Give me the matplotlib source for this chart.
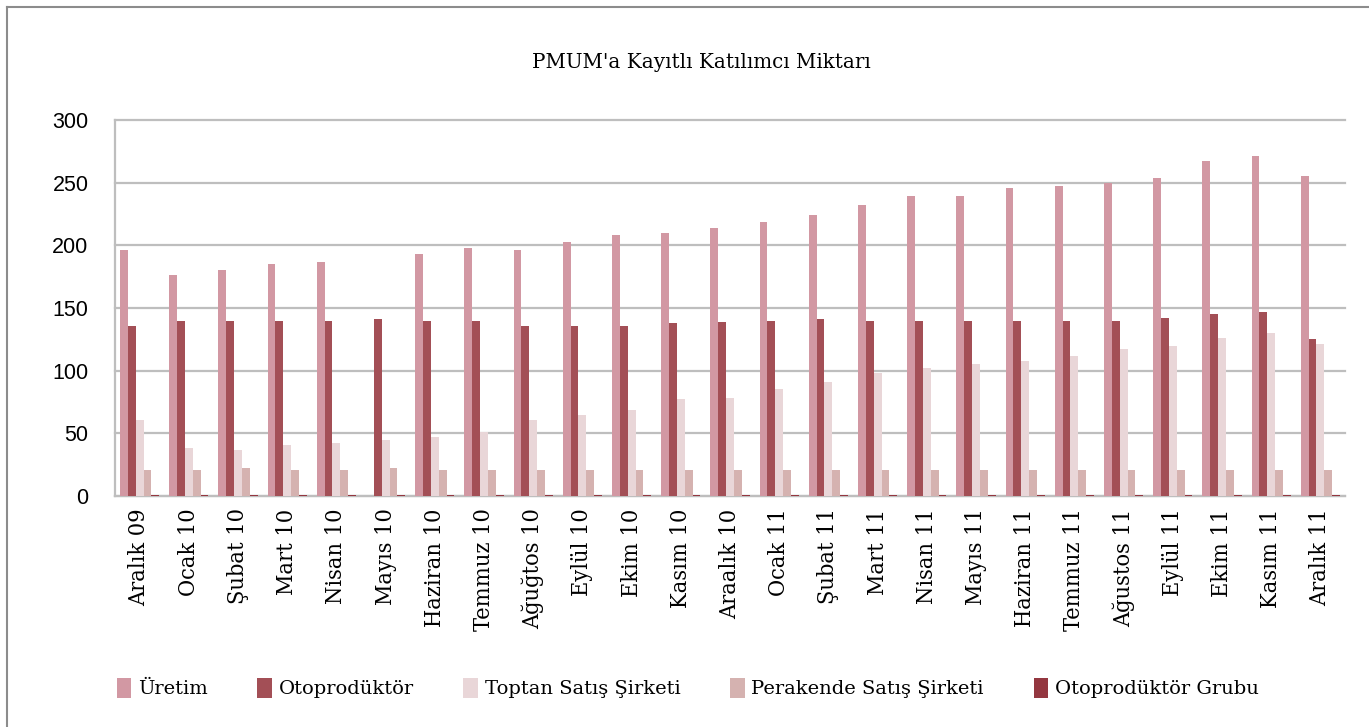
import matplotlib
matplotlib.use("Agg")
import matplotlib.pyplot as plt
import numpy as np
from matplotlib.lines import Line2D

categories = ["Aralık 09", "Ocak 10", "Şubat 10", "Mart 10", "Nisan 10", "Mayıs 10",
              "Haziran 10", "Temmuz 10", "Ağuğtos 10", "Eylül 10", "Ekim 10", "Kasım 10",
              "Araalık 10", "Ocak 11", "Şubat 11", "Mart 11", "Nisan 11", "Mayıs 11",
              "Haziran 11", "Temmuz 11", "Ağustos 11", "Eylül 11", "Ekim 11", "Kasım 11",
              "Aralık 11"]
uretim = [196, 176, 180, 185, 187, 0, 193, 198, 196, 203, 208, 210, 214, 219, 224, 232,
          239, 239, 246, 247, 250, 254, 267, 271, 255]
otoproduktor = [136, 140, 140, 140, 140, 141, 140, 140, 136, 136, 136, 138, 139, 140, 141, 140,
                140, 140, 140, 140, 140, 142, 145, 147, 125]
toptan = [61, 38, 37, 41, 42, 45, 47, 51, 61, 65, 69, 77, 78, 85, 91, 98,
          102, 105, 108, 112, 117, 120, 126, 130, 121]
perakende = [21, 21, 22, 21, 21, 22, 21, 21, 21, 21, 21, 21, 21, 21, 21, 21,
             21, 21, 21, 21, 21, 21, 21, 21, 21]
grubu = [1] * 25

series_names = ["Üretim", "Otoprodüktör", "Toptan Satış Şirketi", "Perakende Satış Şirketi",
                "Otoprodüktör Grubu"]
series_values = [uretim, otoproduktor, toptan, perakende, grubu]
colors = ["#D298A3", "#A34F56", "#E9D6D8", "#D5B2B0", "#943740"]

W, H = 1369, 727
fig = plt.figure(figsize=(W / 100, H / 100), dpi=100)
ax = fig.add_axes([115 / W, 1 - 496 / H, (1345 - 115) / W, (496 - 120) / H])

x = np.arange(len(categories))
bw = 0.159
for k, (name, vals, c) in enumerate(zip(series_names, series_values, colors)):
    ax.bar(x + (k - 2) * bw, vals, width=bw, color=c, label=name, zorder=3, linewidth=0)

ax.set_xlim(-0.5, len(categories) - 0.5)
ax.set_ylim(0, 300)
ax.set_yticks(np.arange(0, 301, 50))
ax.yaxis.grid(True, color="#BEBEBE", linewidth=1.6, zorder=0)
for gl in ax.get_ygridlines():
    gl.set_clip_on(False)
ax.set_axisbelow(True)
for s in ["top", "right"]:
    ax.spines[s].set_visible(False)
ax.spines["left"].set_color("#BEBEBE")
ax.spines["left"].set_linewidth(1.6)
ax.spines["bottom"].set_color("#BEBEBE")
ax.spines["bottom"].set_linewidth(1.6)
ax.tick_params(axis="both", length=0)
ax.tick_params(axis="y", pad=19, labelsize=15.5)
for lbl in ax.get_yticklabels():
    lbl.set_fontfamily("Liberation Sans")

ax.set_xticks(x)
ax.set_xticklabels(categories, rotation=90, fontsize=16.8, family="DejaVu Serif",
                   fontstretch="condensed")
ax.tick_params(axis="x", pad=9)

fig.text(701 / W, 1 - 62 / H, "PMUM'a Kayıtlı Katılımcı Miktarı", ha="center", va="center",
         fontsize=14.3, family="DejaVu Serif")

leg = fig.legend(loc="center left", bbox_to_anchor=(99 / W, 1 - 688 / H), ncol=5, frameon=False,
                 prop={"family": "DejaVu Serif", "size": 14}, handlelength=0.75, handleheight=1.2,
                 handletextpad=0.35, columnspacing=2.55)

fig.add_artist(Line2D([7 / W, 1.0], [1 - 7 / H, 1 - 7 / H], transform=fig.transFigure,
                      color="#8C8C8C", linewidth=1.5))
fig.add_artist(Line2D([7 / W, 7 / W], [0, 1 - 7 / H], transform=fig.transFigure,
                      color="#8C8C8C", linewidth=1.5))

fig.savefig("out.png", dpi=100)
